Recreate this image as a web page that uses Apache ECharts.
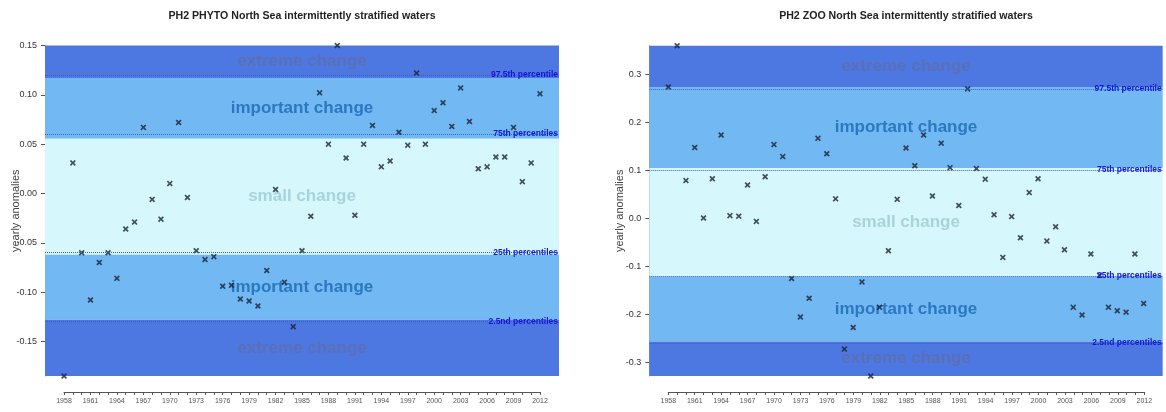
<!DOCTYPE html>
<html>
<head>
<meta charset="utf-8">
<script src="https://cdn.jsdelivr.net/npm/echarts@6/dist/echarts.min.js"></script>
<style>
html,body{margin:0;padding:0;background:#ffffff;}
#chart{width:1166px;height:412px;}
</style>
</head>
<body>
<div id="chart"></div>
<script>
// ---------------- DATA ----------------
const years = [1958,1959,1960,1961,1962,1963,1964,1965,1966,1967,1968,1969,1970,1971,1972,1973,1974,1975,1976,1977,1978,1979,1980,1981,1982,1983,1984,1985,1986,1987,1988,1989,1990,1991,1992,1993,1994,1995,1996,1997,1998,1999,2000,2001,2002,2003,2004,2005,2006,2007,2008,2009,2010,2011,2012];

const phytoValues = [-0.185,0.031,-0.060,-0.108,-0.070,-0.060,-0.086,-0.036,-0.029,0.067,-0.006,-0.026,0.010,0.072,-0.004,-0.058,-0.067,-0.064,-0.094,-0.093,-0.107,-0.109,-0.114,-0.078,0.004,-0.090,-0.135,-0.058,-0.023,0.102,0.050,0.150,0.036,-0.022,0.050,0.069,0.027,0.033,0.062,0.049,0.122,0.050,0.084,0.092,0.068,0.107,0.073,0.025,0.027,0.037,0.037,0.067,0.012,0.031,0.101];

const zooValues = [0.274,0.360,0.079,0.148,0.001,0.083,0.174,0.006,0.005,0.070,-0.006,0.087,0.154,0.129,-0.125,-0.205,-0.166,0.167,0.135,0.041,-0.272,-0.227,-0.132,-0.328,-0.185,-0.067,0.040,0.147,0.110,0.174,0.047,0.157,0.106,0.027,0.270,0.104,0.082,0.008,-0.081,0.004,-0.040,0.054,0.083,-0.047,-0.017,-0.065,-0.185,-0.201,-0.074,-0.118,-0.185,-0.192,-0.195,-0.074,-0.177];

// percentiles: 97.5th, 75th, 25th, 2.5th
const phytoPercentiles = [0.117, 0.0555, -0.062, -0.128];
const zooPercentiles = [0.274, 0.105, -0.121, -0.256];
const percentileLabels = ['97.5th percentile', '75th percentiles', '25th percentiles', '2.5nd percentiles'];
const bandLabels = ['extreme change', 'important change', 'small change', 'important change', 'extreme change'];

const phytoYTicks = [-0.15, -0.10, -0.05, 0.00, 0.05, 0.10, 0.15];
const zooYTicks = [-0.3, -0.2, -0.1, 0.0, 0.1, 0.2, 0.3];
const xLabelYears = [1958,1961,1964,1967,1970,1973,1976,1979,1982,1985,1988,1991,1994,1997,2000,2003,2006,2009,2012];

const titles = ['PH2 PHYTO North Sea intermittently stratified waters', 'PH2 ZOO North Sea intermittently stratified waters'];
const yAxisName = 'yearly anomalies';

// ---------------- STYLE ----------------
const FONT = '"Liberation Sans", Arial, sans-serif';
const bandColors = ['#4e78e1', '#72b9f4', '#d6f8fc', '#72b9f4', '#4e78e1'];
const bandTextColors = ['#5b6fb6', '#2a78c2', '#a8d3dd', '#2a78c2', '#5b6fb6'];
const crossPath = 'path://M0,2L2,0L5,3L8,0L10,2L7,5L10,8L8,10L5,7L2,10L0,8L3,5Z';

const panels = [
  {vals: phytoValues, pct: phytoPercentiles, ticks: phytoYTicks, dec: 2,
   grid: {left: 45, top: 45.5, width: 514, height: 330.5},
   deco: {left: 64, top: 391, width: 476, height: 1}},
  {vals: zooValues, pct: zooPercentiles, ticks: zooYTicks, dec: 1,
   grid: {left: 649.3, top: 45.7, width: 513.4, height: 330.3},
   deco: {left: 668.3, top: 391, width: 476, height: 1}}
];

const option = {
  animation: false,
  backgroundColor: '#ffffff',
  title: [], grid: [], xAxis: [], yAxis: [], series: []
};

panels.forEach((p, i) => {
  const gMain = i * 2, gDeco = i * 2 + 1;
  const yMin = Math.min(...p.vals), yMax = Math.max(...p.vals);
  const span = years[years.length - 1] - years[0];
  const xMin = years[0] - 0.04 * span, xMax = years[years.length - 1] + 0.04 * span;

  option.title.push({
    text: titles[i],
    left: p.grid.left + p.grid.width / 2,
    top: 11,
    padding: 0,
    textAlign: 'center',
    textStyle: {fontFamily: FONT, fontSize: 10.6, fontWeight: 'bold', color: '#222222'}
  });

  option.grid.push(Object.assign({containLabel: false}, p.grid));
  option.grid.push(Object.assign({containLabel: false}, p.deco));

  // main axes
  option.xAxis.push({
    type: 'value', gridIndex: gMain, min: xMin, max: xMax, show: false
  });
  option.yAxis.push({
    type: 'value', gridIndex: gMain, min: yMin, max: yMax,
    name: yAxisName, nameLocation: 'middle', nameGap: 24, nameMoveOverlap: false,
    nameTextStyle: {fontFamily: FONT, fontSize: 11, color: '#444444'},
    axisLine: {show: true, lineStyle: {color: '#8d9bb0', width: 1}},
    axisTick: {show: true, length: 4, customValues: p.ticks, lineStyle: {color: '#555555'}},
    axisLabel: {show: true, margin: 8, customValues: p.ticks,
      formatter: v => v.toFixed(p.dec),
      fontFamily: FONT, fontSize: 9, color: '#333333'},
    splitLine: {show: false}
  });
  // decorative year axis (separate line below the plot)
  option.xAxis.push({
    type: 'value', gridIndex: gDeco, min: years[0], max: years[years.length - 1], interval: 1,
    position: 'bottom',
    axisLine: {show: true, lineStyle: {color: '#555555', width: 1}},
    axisTick: {show: true, length: 3, customValues: years, lineStyle: {color: '#555555'}},
    axisLabel: {show: true, margin: 6, customValues: xLabelYears,
      formatter: v => String(Math.round(v)),
      fontFamily: FONT, fontSize: 7, color: '#555555'},
    splitLine: {show: false}
  });
  option.yAxis.push({type: 'value', gridIndex: gDeco, show: false, min: 0, max: 1});

  // bands
  const bounds = [yMax, p.pct[0], p.pct[1], p.pct[2], p.pct[3], yMin];
  const areas = bandLabels.map((lab, k) => [
    {yAxis: bounds[k], name: lab,
     itemStyle: {color: bandColors[k], opacity: 1},
     label: {show: true, position: 'inside', formatter: lab,
       fontFamily: FONT, fontSize: 17, fontWeight: 'bold', color: bandTextColors[k]}},
    {yAxis: bounds[k + 1]}
  ]);
  option.series.push({
    type: 'scatter', xAxisIndex: gMain, yAxisIndex: gMain, data: [], z: 1, silent: true,
    markArea: {silent: true, data: areas}
  });
  // percentile lines
  option.series.push({
    type: 'scatter', xAxisIndex: gMain, yAxisIndex: gMain, data: [], z: 2, silent: true,
    markLine: {
      silent: true, symbol: 'none',
      lineStyle: {type: 'dotted', color: '#3c5fb8', width: 1},
      data: p.pct.map((v, k) => ({
        yAxis: v,
        label: {show: true, position: 'insideEndTop', formatter: percentileLabels[k],
          distance: [1, -4], fontFamily: FONT, fontSize: 8.5, fontWeight: 'bold', color: '#1414d6'}
      }))
    }
  });
  // points
  option.series.push({
    type: 'scatter', xAxisIndex: gMain, yAxisIndex: gMain, z: 3,
    symbol: crossPath, symbolSize: 6,
    itemStyle: {color: '#1b2233'},
    data: years.map((y, k) => [y, p.vals[k]])
  });
});

const chart = echarts.init(document.getElementById('chart'), null, {renderer: 'canvas'});
chart.setOption(option);
</script>
</body>
</html>
